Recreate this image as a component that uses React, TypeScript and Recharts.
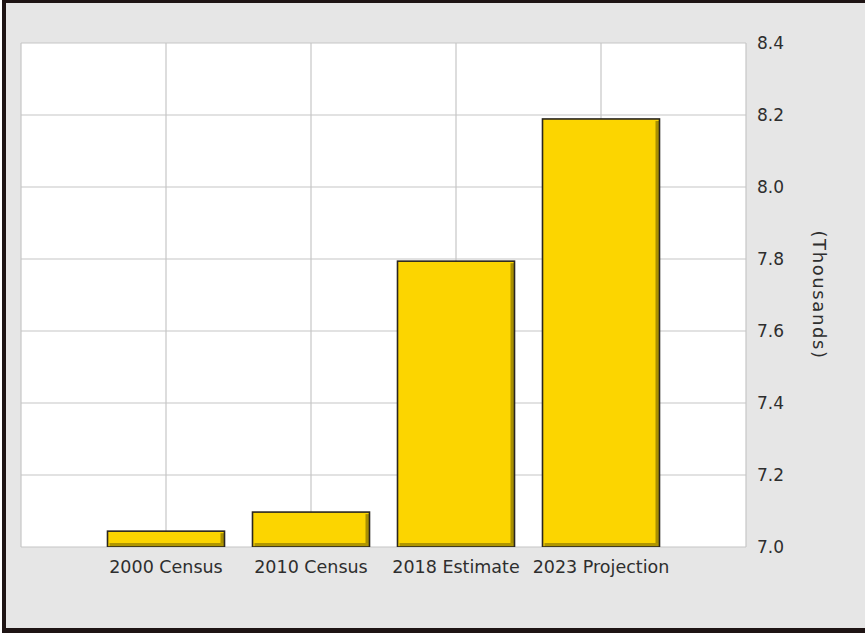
import React from "react";
import { BarChart, Bar, XAxis, YAxis, CartesianGrid } from "recharts";

const categories = ["2000 Census", "2010 Census", "2018 Estimate", "2023 Projection"];
const population = [7.044, 7.097, 7.794, 8.189];
const yTicks = [7.0, 7.2, 7.4, 7.6, 7.8, 8.0, 8.2, 8.4];
const xSlots = [0, 1, 2, 3, 4, 5];

const data = categories.map((name, i) => ({ pos: i + 1, name, value: population[i] }));

const FONT = "'DejaVu Sans', Verdana, sans-serif";

function BevelBar(props: any) {
  const { x, y, width, height } = props;
  if (!height || height <= 0) return null;
  const edge = 4;
  return (
    <g>
      <rect x={x} y={y} width={width} height={height} fill="#fcd500" />
      <rect x={x + width - edge} y={y + 2} width={edge} height={height - 2} fill="#a88f00" />
      <rect x={x + 2} y={y + height - edge} width={width - 2} height={edge} fill="#b09600" />
      <rect
        x={x}
        y={y}
        width={width}
        height={height}
        fill="none"
        stroke="#2a2620"
        strokeWidth={1.6}
      />
    </g>
  );
}

export default function App() {
  return (
    <div style={{ position: "fixed", left: 0, top: 0, width: 865, height: 635, background: "#fff" }}>
      <div
        style={{
          position: "absolute",
          left: 2,
          top: 0,
          width: 863,
          height: 633,
          boxSizing: "border-box",
          background: "#e6e6e6",
          borderLeft: "4px solid #1e1414",
          borderTop: "3px solid #1e1414",
          borderBottom: "5px solid #1e1414",
        }}
      />
      <div style={{ position: "absolute", left: 0, top: 0 }}>
        <BarChart
          width={865}
          height={635}
          data={data}
          margin={{ top: 43, left: 21, right: 0, bottom: 0 }}
          barCategoryGap={14}
        >
          <CartesianGrid stroke="#c6c6c6" strokeWidth={1.2} fill="#ffffff" />
          <XAxis
            dataKey="pos"
            type="number"
            domain={[0, 5]}
            ticks={xSlots}
            interval={0}
            height={88}
            axisLine={false}
            tickLine={false}
            tickFormatter={(v: number) => categories[v - 1] ?? ""}
            tick={{ fill: "#2e2e2e", fontSize: 17.5, fontFamily: FONT, dy: 6 }}
          />
          <YAxis
            orientation="right"
            width={119}
            domain={[7.0, 8.4]}
            ticks={yTicks}
            allowDataOverflow
            axisLine={false}
            tickLine={false}
            tickFormatter={(v: number) => v.toFixed(1)}
            tick={{ fill: "#2e2e2e", fontSize: 17, fontFamily: FONT, textAnchor: "start", dx: 3 }}
            label={{
              value: "(Thousands)",
              angle: 90,
              position: "insideRight",
              dx: -41,
              style: { fill: "#2e2e2e", fontSize: 18, letterSpacing: 1.6, fontFamily: FONT, textAnchor: "middle" },
            }}
          />
          <Bar dataKey="value" shape={<BevelBar />} isAnimationActive={false} />
        </BarChart>
      </div>
    </div>
  );
}
